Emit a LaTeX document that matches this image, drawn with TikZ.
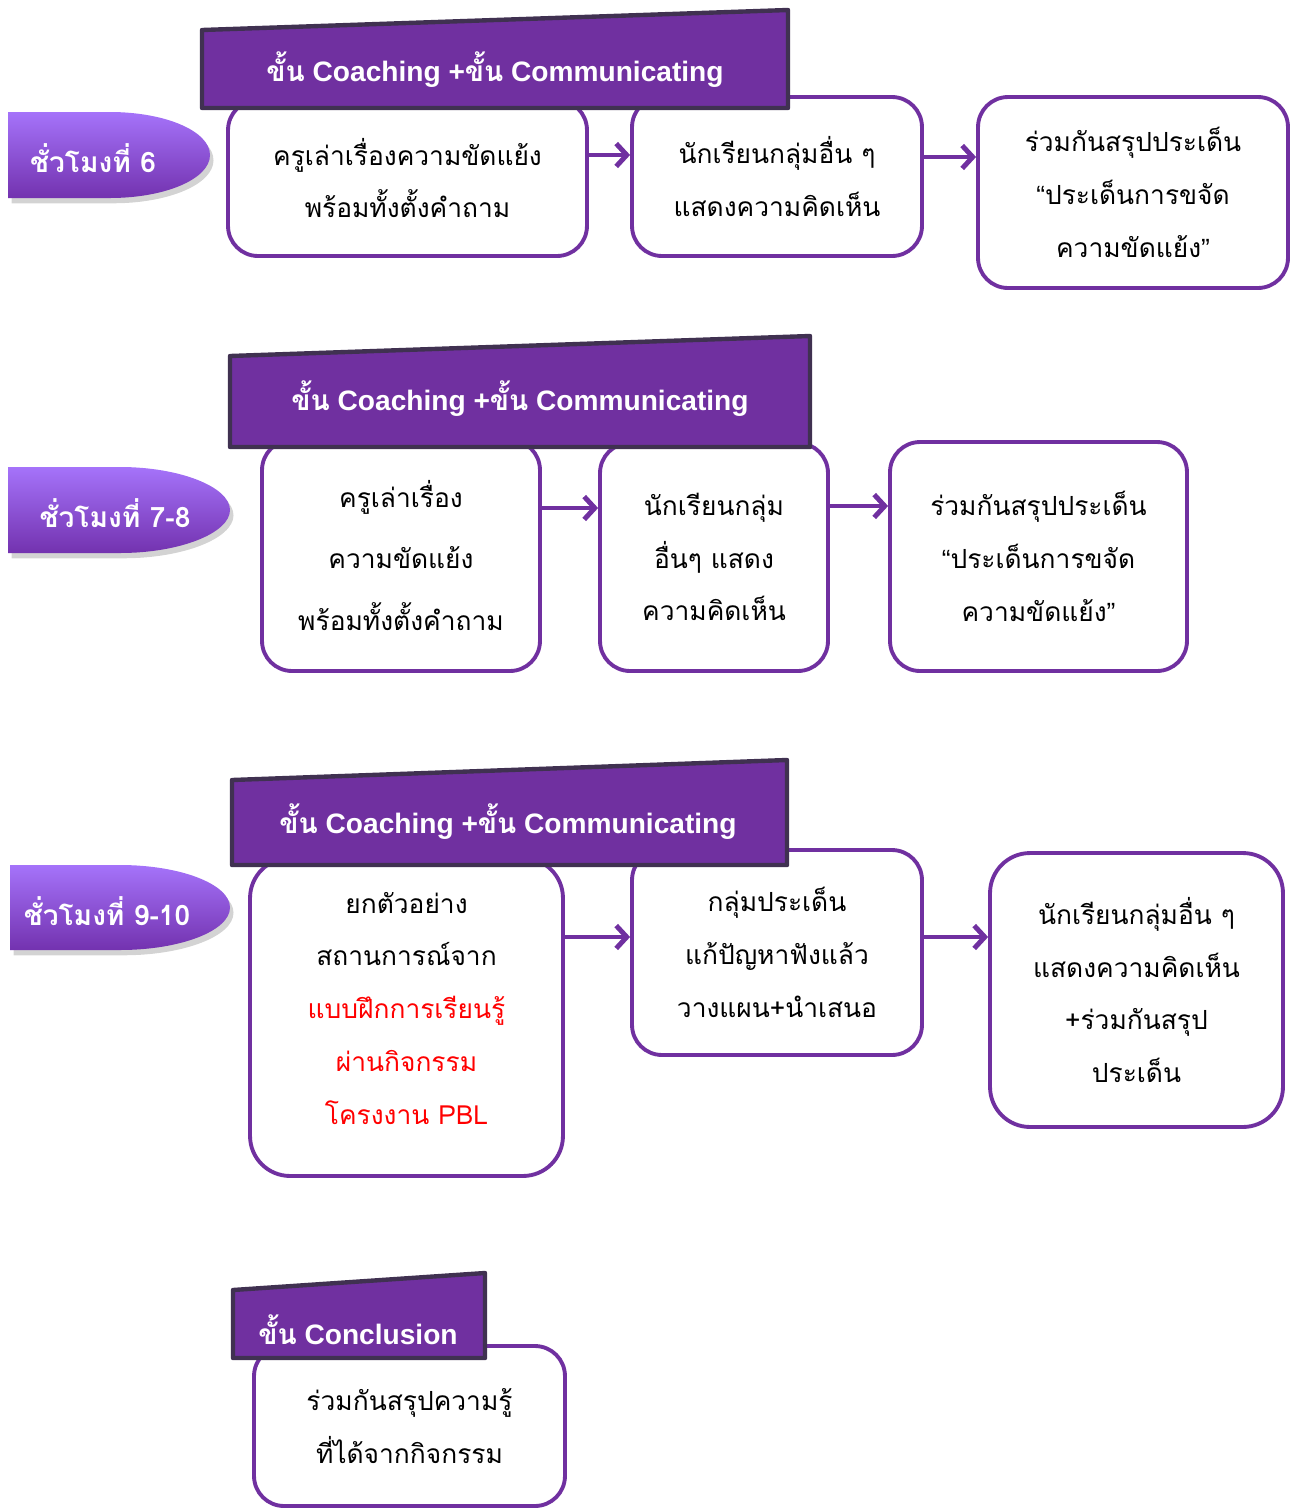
\documentclass[tikz,border=0pt]{standalone}
\usepackage{fontspec}
\setmainfont{Liberation Sans}
\newfontfamily\thaifont[Script=Thai]{Loma}
\usetikzlibrary{arrows.meta,shadows}
\definecolor{mypurple}{RGB}{112,48,160}
\definecolor{tabedge}{RGB}{64,49,81}
\definecolor{pilltop}{RGB}{165,115,250}
\definecolor{pillbot}{RGB}{115,50,175}
\newcommand{\khan}{{\thaifont ขั้น}}
\newcommand{\openq}{{\rmfamily “}}
\newcommand{\closeq}{{\rmfamily ”}}

\begin{document}
\begin{tikzpicture}[x=0.02cm,y=-0.02cm,
every node/.style={align=center},
box/.style={draw=mypurple,line width=2.2pt,rounded corners=0.6cm,fill=white,
  font=\thaifont\fontsize{15}{30}\selectfont},
tab/.style={draw=tabedge,fill=mypurple,line width=2.5pt,line join=round},
tabtext/.style={text=white,font=\bfseries\fontsize{16}{18}\selectfont},
pill/.style={top color=pilltop,bottom color=pillbot,
  drop shadow={shadow xshift=2pt,shadow yshift=-3pt,opacity=0.35}},
pilltext/.style={text=white,font=\thaifont\bfseries\fontsize{16}{18}\selectfont},
flow/.style={draw=mypurple,line width=2.8pt,-{Straight Barb[length=6pt,width=13pt]}}]

\useasboundingbox (0,0) rectangle (1291,1509);

% hour 6
\node[box,minimum width=7.18cm,minimum height=3.12cm] (b1a) at (407.5,178)
  {ครูเล่าเรื่องความขัดแย้ง\\พร้อมทั้งตั้งคำถาม};
\node[box,minimum width=5.8cm,minimum height=3.18cm] (b1b) at (777,176.5)
  {นักเรียนกลุ่มอื่น ๆ\\แสดงความคิดเห็น};
\node[box,minimum width=6.2cm,minimum height=3.82cm] (b1c) at (1133,192.5)
  {ร่วมกันสรุปประเด็น\\\openq ประเด็นการขจัด\\ความขัดแย้ง\closeq};
\draw[tab] (202,30) -- (788,10) -- (788,108) -- (202,108) -- cycle;
\node[tabtext] (h1) at (495,70) {\khan{} Coaching +\khan{} Communicating};
\path[pill] (8,112) -- (110,112) .. controls (165,112) and (210,131) .. (210,155)
  .. controls (210,179) and (165,198) .. (110,198) -- (8,198) -- cycle;
\node[pilltext] (p1) at (93,158) {ชั่วโมงที่ 6};
\draw[flow] (b1a.east |- 0,155) -- (b1b.west |- 0,155);
\draw[flow] (b1b.east |- 0,157) -- (b1c.west |- 0,157);

% hours 7-8
\node[box,minimum width=5.56cm,minimum height=4.62cm,
  font=\thaifont\fontsize{15}{35}\selectfont] (b2a) at (401,555.5)
  {ครูเล่าเรื่อง\\ความขัดแย้ง\\พร้อมทั้งตั้งคำถาม};
\node[box,minimum width=4.56cm,minimum height=4.56cm] (b2b) at (714,557)
  {นักเรียนกลุ่ม\\อื่นๆ แสดง\\ความคิดเห็น};
\node[box,minimum width=5.94cm,minimum height=4.58cm] (b2c) at (1038.5,556.5)
  {ร่วมกันสรุปประเด็น\\\openq ประเด็นการขจัด\\ความขัดแย้ง\closeq};
\draw[tab] (230,356) -- (810,336) -- (810,447) -- (230,447) -- cycle;
\node[tabtext] (h2) at (520,399) {\khan{} Coaching +\khan{} Communicating};
\path[pill] (8,467) -- (120,467) .. controls (180,467) and (230,487) .. (230,510)
  .. controls (230,533) and (180,553) .. (120,553) -- (8,553) -- cycle;
\node[pilltext] (p2) at (115,513) {ชั่วโมงที่ 7-8};
\draw[flow] (b2a.east |- 0,508) -- (b2b.west |- 0,508);
\draw[flow] (b2b.east |- 0,506) -- (b2c.west |- 0,506);

% hours 9-10
\node[box,minimum width=6.26cm,minimum height=6.36cm,rounded corners=0.8cm] (b3a) at (406.5,1017)
  {ยกตัวอย่าง\\สถานการณ์จาก\\{\color{red}แบบฝึกการเรียนรู้}\\{\color{red}ผ่านกิจกรรม}\\{\color{red}โครงงาน PBL}\\[-0.7cm]};
\node[box,minimum width=5.8cm,minimum height=4.1cm] (b3b) at (777,952.5)
  {กลุ่มประเด็น\\แก้ปัญหาฟังแล้ว\\วางแผน+นำเสนอ};
\node[box,minimum width=5.86cm,minimum height=5.48cm,rounded corners=0.8cm] (b3c) at (1136.5,990)
  {นักเรียนกลุ่มอื่น ๆ\\แสดงความคิดเห็น\\+ร่วมกันสรุป\\ประเด็น};
\draw[tab] (232,780) -- (787,760) -- (787,865) -- (232,865) -- cycle;
\node[tabtext] (h3) at (508,822) {\khan{} Coaching +\khan{} Communicating};
\path[pill] (10,865) -- (120,865) .. controls (180,865) and (230,884) .. (230,907.5)
  .. controls (230,931) and (180,950) .. (120,950) -- (10,950) -- cycle;
\node[pilltext] (p3) at (107,911) {ชั่วโมงที่ 9-10};
\draw[flow] (b3a.east |- 0,937) -- (b3b.west |- 0,937);
\draw[flow] (b3b.east |- 0,937) -- (b3c.west |- 0,937);

% conclusion
\node[box,minimum width=6.22cm,minimum height=3.2cm] (b4) at (409.5,1426)
  {ร่วมกันสรุปความรู้\\ที่ได้จากกิจกรรม};
\draw[tab] (233,1290) -- (485,1273) -- (485,1358) -- (233,1358) -- cycle;
\node[tabtext] (h4) at (358,1330) {\khan{} Conclusion};
\end{tikzpicture}
\end{document}
